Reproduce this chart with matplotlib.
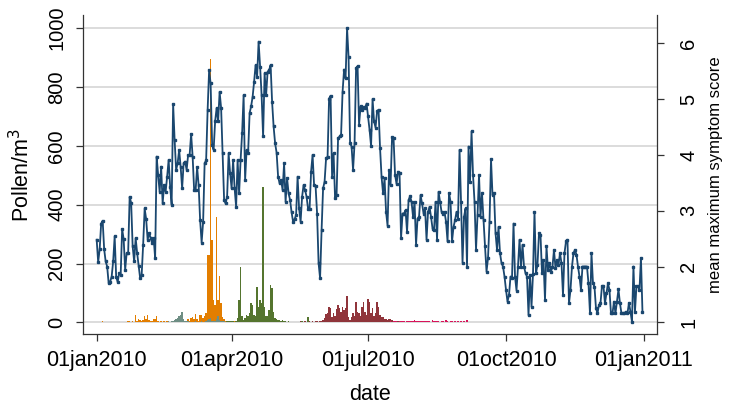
import matplotlib
matplotlib.use("Agg")
import matplotlib.pyplot as plt
import matplotlib.dates as mdates
import pandas as pd

plt.rcParams["font.family"] = ["Liberation Sans", "DejaVu Sans"]

# mean maximum symptom score, one value per day, month by month (2010)
score_jan = [2.48, 2.08, 2.31, 2.77, 2.82, 2.31, 2.09, 2.00, 1.70, 1.73, 1.82, 2.09, 2.54, 1.82, 1.72, 1.88,
             1.85, 2.67, 2.49, 1.94, 2.24, 2.24, 3.25, 3.14, 2.36, 2.09, 2.51, 2.24, 2.01, 1.79, 1.85]
score_feb = [2.39, 3.04, 2.85, 2.48, 2.60, 2.51, 2.42, 2.51, 2.15, 3.97, 3.64, 3.34, 3.79, 3.13, 3.46, 3.34,
             3.61, 3.91, 3.43, 3.11, 4.91, 4.26, 3.73, 3.85, 4.09, 3.79, 3.40, 3.85]
score_mar = [3.88, 3.73, 4.00, 4.00, 4.37, 3.97, 3.37, 3.37, 3.78, 3.46, 2.83, 2.43, 2.80, 3.85, 3.90, 4.81,
             5.52, 5.28, 4.18, 4.09, 4.60, 4.84, 4.60, 5.13, 4.84, 4.03, 3.19, 3.13, 3.25, 4.03, 3.67]
score_apr = [3.40, 3.91, 3.40, 3.07, 3.91, 3.31, 3.91, 4.39, 5.07, 3.55, 4.09, 4.03, 4.75, 4.87, 5.04, 5.31,
             5.61, 5.40, 6.03, 5.58, 5.07, 4.33, 5.46, 5.07, 5.49, 5.52, 5.61, 4.95, 4.51, 4.21]
score_may = [4.04, 3.61, 3.49, 3.55, 3.37, 3.85, 3.16, 3.58, 3.31, 3.19, 2.97, 2.80, 2.85, 2.92, 3.61, 3.04,
             2.80, 3.25, 3.46, 3.37, 3.25, 3.03, 3.03, 3.70, 4.00, 3.46, 3.44, 2.95, 2.06, 1.79, 2.65]
score_jun = [3.40, 3.52, 3.94, 3.97, 5.01, 5.06, 3.61, 4.03, 3.22, 3.28, 4.30, 4.33, 4.36, 5.13, 5.53, 5.37,
             6.27, 5.75, 4.21, 4.15, 3.73, 4.21, 5.55, 5.59, 4.54, 4.87, 4.81, 4.85, 4.84, 4.92]
score_jul = [4.69, 4.45, 4.16, 5.00, 4.60, 4.49, 4.78, 4.81, 4.12, 3.61, 3.31, 3.58, 2.98, 2.73, 3.73, 3.46,
             4.32, 4.30, 3.64, 3.48, 3.70, 3.67, 2.51, 2.95, 2.95, 3.01, 2.62, 3.19, 3.26, 3.16, 2.89]
score_aug = [3.16, 2.39, 2.86, 2.89, 3.28, 3.13, 2.95, 3.04, 2.48, 2.98, 3.07, 2.89, 2.68, 2.65, 3.16, 2.48,
             3.34, 3.16, 2.98, 2.95, 2.98, 2.80, 2.45, 3.32, 3.16, 2.45, 2.71, 2.83, 2.98, 2.86, 4.09]
score_sep = [3.16, 2.07, 2.89, 3.04, 2.00, 4.15, 3.52, 4.42, 3.64, 3.16, 2.30, 2.92, 3.64, 2.89, 3.31, 2.83,
             2.36, 1.91, 2.15, 2.80, 3.92, 3.28, 3.31, 2.60, 2.30, 2.71, 2.24, 2.06, 2.00, 1.82]
score_oct = [1.58, 1.37, 1.49, 1.82, 1.79, 2.77, 1.82, 1.57, 2.00, 2.48, 2.00, 2.39, 2.00, 1.88, 1.82, 1.13,
             1.85, 1.28, 1.87, 2.98, 1.88, 2.03, 2.60, 2.57, 1.88, 2.12, 1.40, 2.36, 1.94, 2.06, 1.91]
score_nov = [2.00, 2.30, 1.97, 2.12, 2.03, 2.24, 2.06, 1.49, 2.24, 2.45, 2.48, 1.34, 1.58, 2.00, 2.24, 2.30,
             2.21, 2.00, 1.82, 1.58, 2.00, 2.00, 2.00, 2.00, 1.70, 1.16, 2.24, 1.70, 1.64, 1.25]
score_dec = [1.16, 1.31, 1.34, 1.65, 1.65, 1.34, 1.52, 1.70, 1.58, 1.16, 1.16, 1.37, 1.16, 1.37, 1.59, 1.34,
             1.16, 1.16, 1.16, 1.19, 1.16, 1.35, 1.19, 1.01, 2.00, 1.19, 1.65, 1.65, 1.58, 2.15, 1.19]

# daily pollen counts per taxon (grains/m3), each list starts on its own date
alder_start = "2010-01-01"
alder = [0, 0, 0, 0, 3, 0, 0, 0, 0, 0, 0, 0, 0, 0, 0, 0, 0, 0, 0, 0,
         0, 3, 3, 0, 4, 2, 25, 5, 11, 8, 4, 8, 21, 10, 25, 8, 5, 3, 10, 10,
         21, 4, 2, 3, 0, 3, 2, 3, 2, 0, 3, 2, 2, 3, 2, 2, 3, 2, 4, 3,
         4, 10, 6, 14, 19, 10, 28, 12, 5, 25, 25, 15, 20, 30, 228, 228, 897, 280, 76, 60,
         358, 76, 157, 64, 19, 10, 5, 3, 4, 2, 3, 2, 3, 2, 2, 3, 2, 2, 0, 2, 2]
hazel_start = "2010-02-15"
hazel = [2, 0, 2, 3, 2, 4, 5, 8, 10, 14, 22, 26, 34, 12, 6, 3, 4, 2, 0, 2,
         0, 3, 0, 2, 0, 3, 0, 2, 4, 8, 12, 15, 5, 3, 6, 10, 20, 8, 4, 3,
         4, 2, 3, 2, 0, 2]
birch_start = "2010-03-28"
birch = [2, 3, 3, 5, 4, 3, 2, 5, 15, 76, 187, 20, 8, 15, 25, 20, 30, 64, 59, 25,
         20, 121, 53, 76, 64, 459, 53, 20, 20, 42, 127, 115, 35, 15, 10, 8, 8, 5, 8, 5,
         3, 2, 3, 2, 0, 2, 0, 0, 2, 0, 0, 3, 0, 0, 0, 17]
grass_start = "2010-05-14"
grass = [2, 0, 2, 3, 2, 0, 3, 2, 0, 4, 2, 3, 2, 5, 3, 2, 4, 3, 8, 15,
         28, 30, 53, 47, 18, 30, 20, 45, 59, 47, 36, 53, 42, 47, 89, 19, 8, 19, 30, 20,
         70, 36, 32, 20, 53, 70, 36, 25, 79, 70, 30, 47, 20, 30, 70, 53, 25, 19, 17, 10,
         12, 8, 10, 12, 8, 5, 3, 2, 3, 2, 0, 2]
grass_late_start = "2010-09-12"
grass_late = [2, 2, 2, 2, 2, 2, 2, 2, 0, 0, 0, 0, 2, 2, 2, 2, 2]
mugwort_start = "2010-07-15"
mugwort = [2, 3, 2, 3, 4, 3, 2, 4, 3, 5, 3, 2, 4, 3, 6, 3, 5, 8, 4, 3,
           5, 4, 3, 6, 4, 3, 5, 4, 2, 7, 4, 3, 6, 3, 2, 4, 3, 2, 8, 3,
           2, 4, 3, 2, 3, 2, 3, 2, 3, 2, 3, 2, 8, 2, 2]

tick_dates = ["2010-01-01", "2010-04-01", "2010-07-01", "2010-10-01", "2011-01-01"]
tick_labels = ["01jan2010", "01apr2010", "01jul2010", "01oct2010", "01jan2011"]

score = (score_jan + score_feb + score_mar + score_apr + score_may + score_jun +
         score_jul + score_aug + score_sep + score_oct + score_nov + score_dec)
days = pd.date_range("2010-01-01", periods=len(score))

fig = plt.figure(figsize=(7.34, 4.08), dpi=100)
ax = fig.add_axes([0.1127, 0.1806, 0.7824, 0.7826])
ax2 = ax.twinx()

series = [
    (alder_start, alder, "#e37e00"),
    (hazel_start, hazel, "#6e8e84"),
    (birch_start, birch, "#55752f"),
    (grass_start, grass, "#90353b"),
    (grass_late_start, grass_late, "#90353b"),
    (mugwort_start, mugwort, "#d8145a"),
]
for start, vals, col in series:
    d = pd.date_range(start, periods=len(vals))
    ax.bar(d, vals, width=0.9, color=col, linewidth=0, zorder=2)

ax2.plot(days, score, color="#1a476f", lw=1.3, marker="s", ms=1.8, zorder=3)

x0 = mdates.date2num(pd.Timestamp("2010-01-01"))
ax.set_xlim(x0 - 9.3, x0 + 373.7)
ax.set_ylim(-40.8, 1045)
ax2.set_ylim(0.785, 6.507)

ax.set_xticks([mdates.date2num(pd.Timestamp(t)) for t in tick_dates])
ax.set_xticklabels(tick_labels)
ax.set_yticks(range(0, 1001, 200))
ax2.set_yticks(range(1, 7))

ax.yaxis.grid(True, color="#dcdcdc", linewidth=1.4)
ax.set_axisbelow(True)

for a in (ax, ax2):
    a.spines["top"].set_visible(False)
    for s in ("left", "right", "bottom"):
        a.spines[s].set_color("#333333")
        a.spines[s].set_linewidth(0.9)
ax.spines["right"].set_visible(False)
ax2.spines["left"].set_visible(False)
ax2.spines["bottom"].set_visible(False)

ax.tick_params(axis="x", length=5, width=0.9, color="#333333", labelsize=15.5, pad=6)
ax.tick_params(axis="y", length=5, width=0.9, color="#333333", labelsize=14.5, pad=7,
               labelrotation=90)
ax2.tick_params(axis="y", length=5, width=0.9, color="#333333", labelsize=14.5, pad=11,
                labelrotation=90)
for lab in ax.get_yticklabels():
    lab.set_verticalalignment("center")
for lab in ax2.get_yticklabels():
    lab.set_verticalalignment("center")
    lab.set_horizontalalignment("left")

ax.set_ylabel("Pollen/m$^3$", fontsize=15.5, va="center")
ax.yaxis.set_label_coords(-0.107, 0.5)
ax2.set_ylabel("mean maximum symptom score", fontsize=12, va="center")
ax2.yaxis.set_label_coords(1.101, 0.5)
ax.set_xlabel("date", fontsize=15.5, va="center")
ax.xaxis.set_label_coords(0.5, -0.19)

fig.savefig("out.png", dpi=100)
